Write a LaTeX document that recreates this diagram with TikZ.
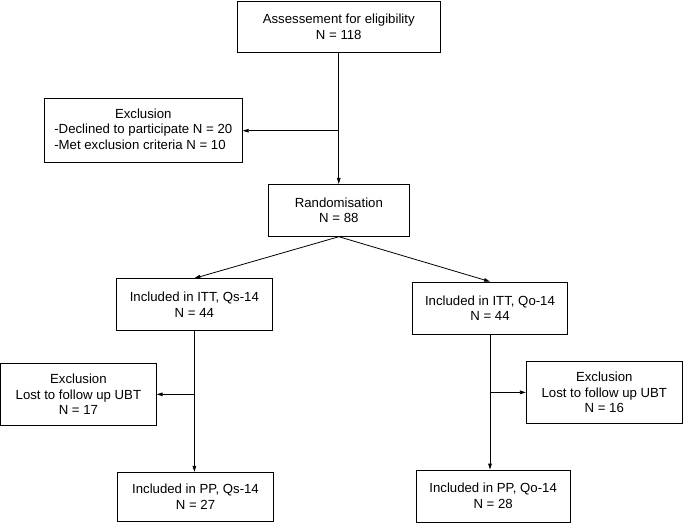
\documentclass[tikz,border=0pt]{standalone}
\usepackage{fontspec}
\setmainfont{Liberation Sans}
\usetikzlibrary{arrows.meta}
\begin{document}
\begin{tikzpicture}[x=1pt,y=-1pt,
  box/.style={draw, line width=0.8pt, inner sep=0pt, align=center,
    font=\fontsize{13.2pt}{15.8pt}\selectfont},
  conn/.style={line width=0.8pt},
  arr/.style={line width=0.8pt, -{Triangle[length=6pt,width=3.6pt]}}]
\useasboundingbox (0,0) rectangle (683,523);
\node[box, minimum width=202.5pt, minimum height=51pt] (assess) at (338.75,26.5)
  {Assessement for eligibility\\N = 118};
\node[box, minimum width=198pt, minimum height=64pt] (excl) at (143.3,130.7)
  {\begin{tabular}{@{}l@{}}\multicolumn{1}{@{}c@{}}{Exclusion}\\-Declined to participate N = 20\\-Met exclusion criteria N = 10\end{tabular}};
\node[box, minimum width=140.3pt, minimum height=52pt] (rand) at (338.85,210.3)
  {Randomisation\\N = 88};
\node[box, minimum width=156.7pt, minimum height=51.6pt] (ittqs) at (194.35,304.5)
  {Included in ITT, Qs-14\\N = 44};
\node[box, minimum width=155.4pt, minimum height=52.3pt] (ittqo) at (490,308.15)
  {Included in ITT, Qo-14\\N = 44};
\node[box, minimum width=155.8pt, minimum height=61.3pt] (exclL) at (78.4,394.35)
  {Exclusion\\Lost to follow up UBT\\N = 17};
\node[box, minimum width=156pt, minimum height=61.3pt] (exclR) at (604.3,392.35)
  {Exclusion\\Lost to follow up UBT\\N = 16};
\node[box, minimum width=156.4pt, minimum height=49.4pt] (ppqs) at (195.5,497)
  {Included in PP, Qs-14\\N = 27};
\node[box, minimum width=153.7pt, minimum height=52.3pt] (ppqo) at (493.15,496.15)
  {Included in PP, Qo-14\\N = 28};
% connectors
\draw[arr] (assess.south) -- (assess.south |- rand.north);
\coordinate (b1) at (assess.south |- excl.east);
\draw[arr] (b1) -- (excl.east);
\draw[arr] (rand.south) -- (ittqs.north);
\draw[arr] (rand.south) -- (ittqo.north);
\draw[arr] (ittqs.south) -- (ittqs.south |- ppqs.north);
\coordinate (b2) at (ittqs.south |- exclL.east);
\draw[arr] (b2) -- (exclL.east);
\coordinate (b3) at (ittqo.south |- ppqo.north);
\draw[arr] (ittqo.south) -- (b3);
\coordinate (b4) at (ittqo.south |- exclR.west);
\draw[arr] (b4) -- (exclR.west);
\end{tikzpicture}
\end{document}
